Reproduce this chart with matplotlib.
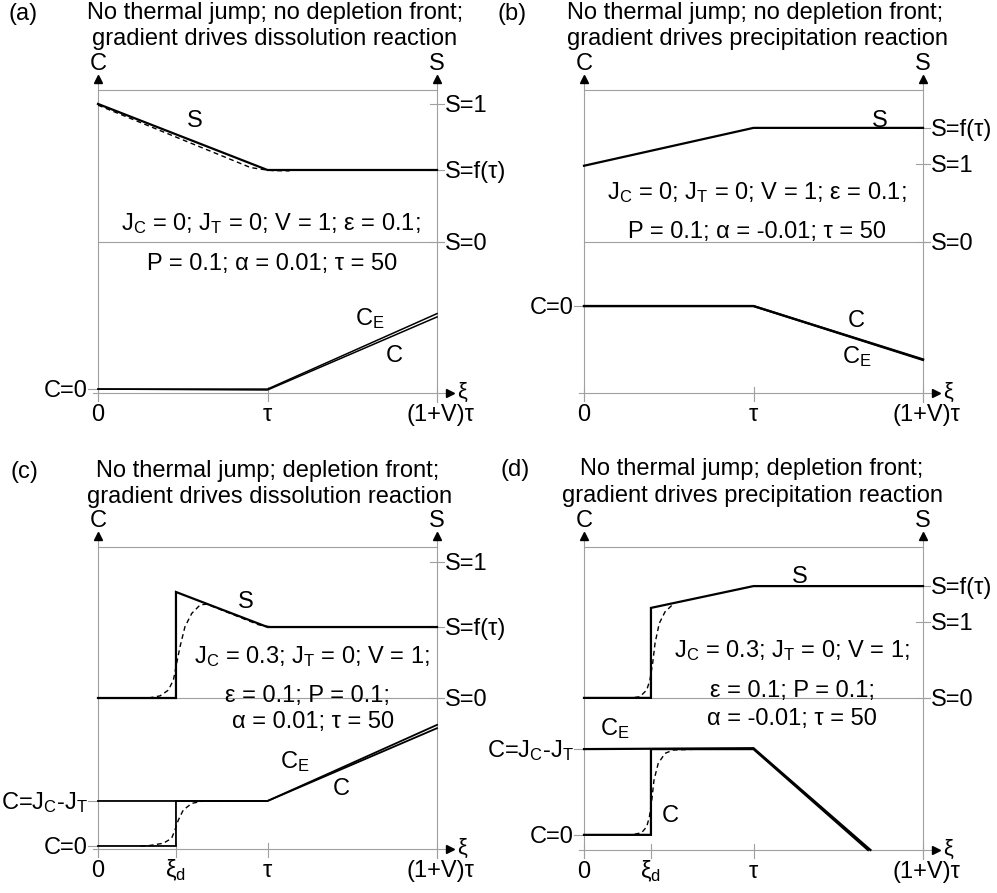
import matplotlib.pyplot as plt

plt.rcParams['font.family'] = ['Liberation Sans', 'DejaVu Sans']
plt.rcParams['mathtext.fontset'] = 'custom'
plt.rcParams['mathtext.rm'] = 'Liberation Sans'
plt.rcParams['mathtext.it'] = 'Liberation Sans:italic'

W, H = 997, 893
GREY = '#a0a0a0'
FS = 17

# x in units of tau (0 .. (1+V)tau = 2); y normalised per panel: 0 = xi axis, 1 = top frame line
# (a)
a_S_x = [0, 1, 2]
a_S = [0.954, 0.736, 0.736]
a_Sd_x = [0, 0.9, 0.97, 1.03, 1.13]
a_Sd = [0.950, 0.744, 0.738, 0.734, 0.733]
a_C_x = [0, 1, 2]
a_C = [0.013, 0.010, 0.251]
a_CE = [0.013, 0.013, 0.262]
a_right = ['S=1', 'S=f(τ)', 'S=0']
a_right_y = [0.954, 0.736, 0.498]
a_left = ['C=0']
a_left_y = [0.013]

# (b)
b_S_x = [0, 1, 2]
b_S = [0.750, 0.875, 0.875]
b_C_x = [0, 1, 2]
b_C = [0.287, 0.287, 0.109]
b_CE = [0.287, 0.287, 0.111]
b_right = ['S=f(τ)', 'S=1', 'S=0']
b_right_y = [0.875, 0.756, 0.498]
b_left = ['C=0']
b_left_y = [0.287]

# (c)
c_xd = 0.46
c_S_x = [0, c_xd, c_xd, 1, 2]
c_S = [0.500, 0.500, 0.851, 0.735, 0.735]
c_Sd_x = [0.25, 0.287, 0.366, 0.415, 0.445, 0.464, 0.484, 0.513, 0.553, 0.602, 0.641, 0.95, 1.0, 1.08, 1.17]
c_Sd = [0.500, 0.499, 0.507, 0.526, 0.560, 0.615, 0.670, 0.736, 0.780, 0.808, 0.811, 0.742, 0.737, 0.735, 0.735]
c_C_x = [0, c_xd, c_xd, 1, 2]
c_C = [0.010, 0.010, 0.159, 0.159, 0.400]
c_CE_x = [0, 1, 2]
c_CE = [0.159, 0.159, 0.411]
c_Cd_x = [0.25, 0.287, 0.385, 0.434, 0.454, 0.474, 0.503, 0.553, 0.621, 0.80]
c_Cd = [0.010, 0.010, 0.019, 0.035, 0.063, 0.096, 0.129, 0.151, 0.159, 0.159]
c_right = ['S=1', 'S=f(τ)', 'S=0']
c_right_y = [0.950, 0.735, 0.500]
c_left = ['C=J$_{\\rm C}$-J$_{\\rm T}$', 'C=0']
c_left_y = [0.159, 0.010]

# (d)
d_xd = 0.395
d_S_x = [0, d_xd, d_xd, 1, 2]
d_S = [0.502, 0.502, 0.799, 0.871, 0.871]
d_Sd_x = [0.25, 0.271, 0.330, 0.370, 0.389, 0.405, 0.419, 0.444, 0.478, 0.527]
d_Sd = [0.502, 0.501, 0.506, 0.528, 0.561, 0.616, 0.682, 0.748, 0.786, 0.812]
d_C_x = [0, d_xd, d_xd, 1, 1.676]
d_C = [0.050, 0.050, 0.333, 0.333, 0.0]
d_CE_x = [0, 1, 1.69]
d_CE = [0.333, 0.336, 0.0]
d_Cd_x = [0.25, 0.281, 0.340, 0.370, 0.386, 0.400, 0.413, 0.438, 0.478, 0.527, 0.684]
d_Cd = [0.050, 0.050, 0.057, 0.077, 0.110, 0.165, 0.231, 0.286, 0.319, 0.330, 0.333]
d_right = ['S=f(τ)', 'S=1', 'S=0']
d_right_y = [0.871, 0.752, 0.502]
d_left = ['C=J$_{\\rm C}$-J$_{\\rm T}$', 'C=0']
d_left_y = [0.333, 0.050]

fig = plt.figure(figsize=(W / 100, H / 100), dpi=100)


def txt(x, y, s, ha='center', va='baseline'):
    # pixel position from top-left, y is the baseline
    fig.text(x / W, 1 - y / H, s, ha=ha, va=va, fontsize=FS)


def g(ax, x, y):
    ax.plot(x, y, color=GREY, lw=0.8, clip_on=False)


def frame(L, B, T, xt, xl, right, right_y, left, left_y, s0):
    ax = fig.add_axes([L / W, 1 - B / H, 339 / W, (B - T) / H])
    ax.set_xlim(0, 2)
    ax.set_ylim(0, 1)
    ax.axis('off')
    h = B - T
    px = lambda x: L + x * 339 / 2
    py = lambda y: B - y * h
    # frame
    g(ax, [0, 0], [-0.025, 1.035])
    g(ax, [2, 2], [-0.03, 1.035])
    g(ax, [0, 2], [1, 1])
    g(ax, [-0.03, 2.07], [0, 0])
    g(ax, [0, 2.04], [s0, s0])
    ax.plot([0, 2], [1.035, 1.035], ls='none', marker='^', color='k', ms=6, clip_on=False)
    ax.plot(2.075, 0, ls='none', marker='>', color='k', ms=6, clip_on=False)
    txt(px(0), T - 20, 'C')
    txt(px(2), T - 20, 'S')
    fig.text((px(2) + 25) / W, 1 - (B - 1) / H, 'ξ', ha='center', va='center', fontsize=FS - 1)
    for x, s in zip(xt, xl):
        g(ax, [x, x], [-0.025, 0.02])
        txt(px(x) + (3 if x == 2 else 0), B + 28, s)
    for y, s in zip(right_y, right):
        g(ax, [1.96, 2.04], [y, y])
        txt(px(2) + 8, py(y) + 8, s, ha='left')
    for y, s in zip(left_y, left):
        g(ax, [-0.06, 0], [y, y])
        txt(L - 10, py(y) + 8, s, ha='right')
    return ax


def solid(ax, x, y, lw=1.6):
    ax.plot(x, y, color='k', lw=lw, clip_on=False, solid_joinstyle='miter')


def dashed(ax, x, y):
    ax.plot(x, y, color='k', lw=1.0, ls=(0, (3.5, 2.5)), clip_on=False)


xl = ['0', 'τ', '(1+V)τ']
xld = ['0', 'ξ$_{\\rm d}$', 'τ', '(1+V)τ']

# (a)
ax = frame(98, 393, 90, [0, 1, 2], xl, a_right, a_right_y, a_left, a_left_y, 0.498)
solid(ax, a_S_x, a_S)
dashed(ax, a_Sd_x, a_Sd)
solid(ax, a_C_x, a_C, 1.1)
solid(ax, a_C_x, a_CE, 1.1)
txt(8, 20, '(a)', ha='left')
txt(275, 19, 'No thermal jump; no depletion front;')
txt(275, 45, 'gradient drives dissolution reaction')
txt(271, 230, 'J$_{\\rm C}$ = 0; J$_{\\rm T}$ = 0; V = 1; ε = 0.1;')
txt(272, 270, 'P = 0.1; α = 0.01; τ = 50')
txt(195, 127, 'S')
txt(355, 325, 'C$_{\\rm E}$', ha='left')
txt(394, 362, 'C')

# (b)
ax = frame(584, 393, 90, [0, 1, 2], xl, b_right, b_right_y, b_left, b_left_y, 0.498)
solid(ax, b_S_x, b_S)
solid(ax, b_C_x, b_C)
solid(ax, b_C_x, b_CE)
txt(497, 20, '(b)', ha='left')
txt(755, 19, 'No thermal jump; no depletion front;')
txt(757, 45, 'gradient drives precipitation reaction')
txt(757, 199, 'J$_{\\rm C}$ = 0; J$_{\\rm T}$ = 0; V = 1; ε = 0.1;')
txt(757, 238, 'P = 0.1; α = -0.01; τ = 50')
txt(880, 127, 'S')
txt(856, 327, 'C')
txt(842, 363, 'C$_{\\rm E}$', ha='left')

# (c)
ax = frame(98, 849, 547, [0, c_xd, 1, 2], xld, c_right, c_right_y, c_left, c_left_y, 0.500)
solid(ax, c_S_x, c_S)
dashed(ax, c_Sd_x, c_Sd)
solid(ax, c_C_x, c_C, 1.3)
solid(ax, c_CE_x, c_CE, 1.3)
dashed(ax, c_Cd_x, c_Cd)
txt(10, 478, '(c)', ha='left')
txt(268, 477, 'No thermal jump; depletion front;')
txt(270, 503, 'gradient drives dissolution reaction')
txt(312, 663, 'J$_{\\rm C}$ = 0.3; J$_{\\rm T}$ = 0; V = 1;')
txt(307, 702, 'ε = 0.1; P = 0.1;')
txt(313, 728, 'α = 0.01; τ = 50')
txt(246, 608, 'S')
txt(280, 768, 'C$_{\\rm E}$', ha='left')
txt(341, 795, 'C')

# (d)
ax = frame(584, 850, 547, [0, d_xd, 1, 2], xld, d_right, d_right_y, d_left, d_left_y, 0.502)
solid(ax, d_S_x, d_S)
dashed(ax, d_Sd_x, d_Sd)
solid(ax, d_C_x, d_C)
solid(ax, d_CE_x, d_CE)
dashed(ax, d_Cd_x, d_Cd)
txt(500, 476, '(d)', ha='left')
txt(752, 475, 'No thermal jump; depletion front;')
txt(752, 502, 'gradient drives precipitation reaction')
txt(792, 657, 'J$_{\\rm C}$ = 0.3; J$_{\\rm T}$ = 0; V = 1;')
txt(792, 697, 'ε = 0.1; P = 0.1;')
txt(792, 725, 'α = -0.01; τ = 50')
txt(800, 583, 'S')
txt(600, 735, 'C$_{\\rm E}$', ha='left')
txt(670, 822, 'C')

fig.savefig('out.png', dpi=100)
